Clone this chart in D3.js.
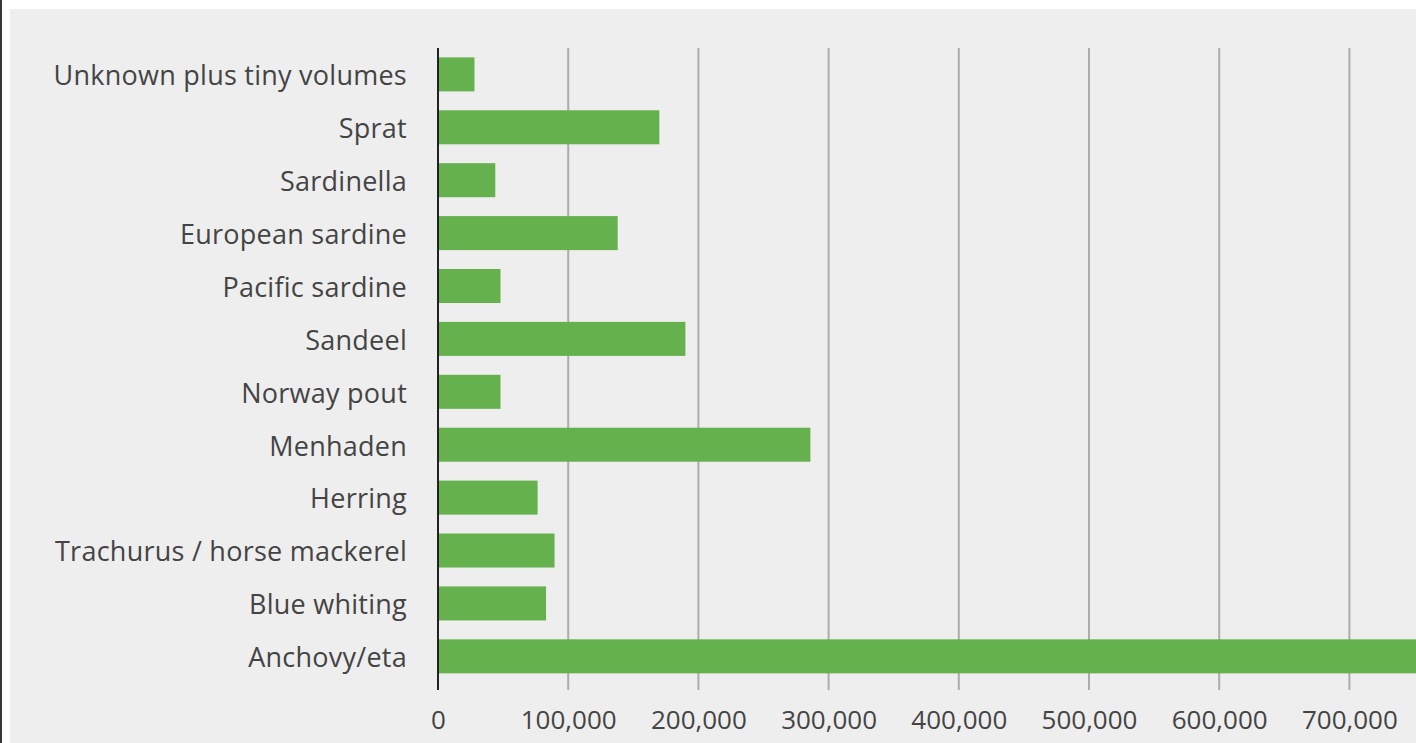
<!DOCTYPE html>
<html>
<head>
<meta charset="utf-8">
<script src="https://cdn.jsdelivr.net/npm/d3@7"></script>
<style>
  html, body { margin: 0; padding: 0; background: #ffffff; overflow: hidden; }
  svg { display: block; }
</style>
</head>
<body>
<svg width="1416" height="743"></svg>
<script>
// species, top to bottom
var species = [
    'Unknown plus tiny volumes', 'Sprat', 'Sardinella', 'European sardine',
    'Pacific sardine', 'Sandeel', 'Norway pout', 'Menhaden', 'Herring',
    'Trachurus / horse mackerel', 'Blue whiting', 'Anchovy/eta'
];
// tonnes (anchovy runs off the right edge of the picture)
var tonnes = [28000, 170000, 44000, 138000, 48000, 190000, 48000, 286000, 76500, 89500, 83000, 1000000];
var xTicks = [0, 100000, 200000, 300000, 400000, 500000, 600000, 700000];

var data = species.map(function(s, i) { return {name: s, value: tonnes[i]}; });

var svg = d3.select('svg');
var svgWidth = +svg.attr('width');
var svgHeight = +svg.attr('height');

// page frame: dark edge, white margin, grey panel
svg.append('rect').attr('width', svgWidth).attr('height', svgHeight).attr('fill', '#ffffff');
svg.append('rect').attr('x', 0).attr('y', 0).attr('width', 2).attr('height', svgHeight).attr('fill', '#3a3535');
svg.append('rect').attr('x', 10).attr('y', 9).attr('width', svgWidth - 10).attr('height', svgHeight - 9).attr('fill', '#eeeeee');

var plot = {l: 438, t: 48, b: 690};

// 100,000 per ~130px, domain runs past the window so the big bar is cut off
var x = d3.scaleLinear()
    .domain([0, 800000])
    .range([plot.l, plot.l + 8 * 130.2]);

var y = d3.scaleBand()
    .domain(species)
    .range([plot.t, plot.b])
    .paddingInner(0.357)
    .paddingOuter(0.246)
    .align(0.36);

// vertical grid lines
svg.append('g').attr('class', 'grid')
    .selectAll('line')
    .data(xTicks.slice(1))
    .enter().append('line')
    .attr('x1', d => x(d)).attr('x2', d => x(d))
    .attr('y1', plot.t).attr('y2', plot.b)
    .attr('stroke', '#acacac')
    .attr('stroke-width', 2);

// bars
svg.append('g').attr('class', 'bars')
    .selectAll('rect')
    .data(data)
    .enter().append('rect')
    .attr('x', x(0))
    .attr('y', d => y(d.name))
    .attr('width', d => x(d.value) - x(0))
    .attr('height', y.bandwidth())
    .attr('fill', '#65b14d');

// zero line
svg.append('line')
    .attr('x1', x(0)).attr('x2', x(0))
    .attr('y1', plot.t).attr('y2', plot.b)
    .attr('stroke', '#222222')
    .attr('stroke-width', 2);

// category labels
var yAxis = d3.axisLeft(y).tickSize(0).tickPadding(31);
var yG = svg.append('g')
    .attr('transform', 'translate(' + plot.l + ',0)')
    .call(yAxis)
    .attr('font-family', "'Open Sans', sans-serif")
    .attr('font-size', 27);
yG.select('.domain').remove();
yG.selectAll('text')
    .attr('dy', '0.4em')
    .style('letter-spacing', '0.25px')
    .attr('fill', '#444444');

// value labels
var xAxis = d3.axisBottom(x)
    .tickValues(xTicks)
    .tickSize(0)
    .tickPadding(21)
    .tickFormat(d3.format(','));
var xG = svg.append('g')
    .attr('transform', 'translate(0,' + plot.b + ')')
    .call(xAxis)
    .attr('font-family', "'Open Sans', sans-serif")
    .attr('font-size', 26);
xG.select('.domain').remove();
xG.selectAll('text')
    .attr('fill', '#444444');
</script>
</body>
</html>
